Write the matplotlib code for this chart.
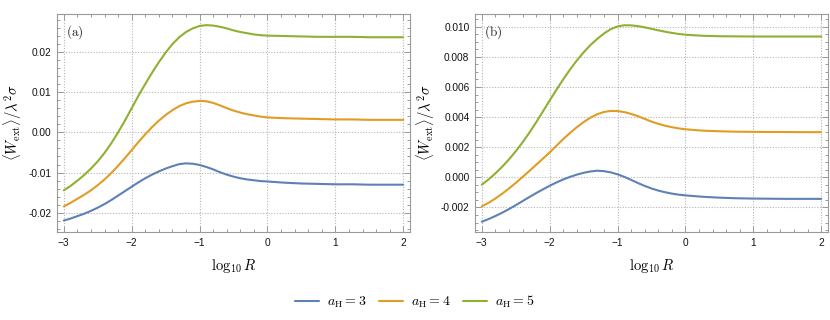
import numpy as np
import matplotlib
matplotlib.use("Agg")
import matplotlib.pyplot as plt
from matplotlib.ticker import MultipleLocator, FormatStrFormatter

# ---- data ----
x_dense = [-3.0, -2.9, -2.8, -2.7, -2.6, -2.5, -2.4, -2.3, -2.2, -2.1,
           -2.0, -1.9, -1.8, -1.7, -1.6, -1.5, -1.4, -1.3, -1.2, -1.1,
           -1.0, -0.9, -0.8, -0.7, -0.6, -0.5, -0.4, -0.3, -0.2, -0.1,
           0.0, 0.25, 0.5, 0.75, 1.0, 1.25, 1.5, 1.75, 2.0]

labels = [r"$a_{\rm H}=3$", r"$a_{\rm H}=4$", r"$a_{\rm H}=5$"]

# panel (a)
a_h3 = [-0.0219, -0.0214, -0.0208, -0.0202, -0.0195, -0.0187, -0.0178, -0.0168, -0.0157, -0.0146,
        -0.0135, -0.0124, -0.0114, -0.0105, -0.0097, -0.0090, -0.0084, -0.0079, -0.0077, -0.0078,
        -0.0081, -0.0086, -0.0092, -0.0099, -0.0105, -0.0110, -0.0114, -0.0117, -0.0119, -0.0121,
        -0.0122, -0.0125, -0.0127, -0.0128, -0.0129, -0.0129, -0.0130, -0.0130, -0.0130]
a_h4 = [-0.0184, -0.0175, -0.0165, -0.0155, -0.0144, -0.0131, -0.0117, -0.0101, -0.0083, -0.0064,
        -0.0044, -0.0024, -0.0005, 0.0013, 0.0029, 0.0043, 0.0055, 0.0065, 0.0072, 0.0076,
        0.0078, 0.0077, 0.0073, 0.0067, 0.0060, 0.0054, 0.0049, 0.0045, 0.0042, 0.0039,
        0.0037, 0.0035, 0.0034, 0.0033, 0.0032, 0.0032, 0.0031, 0.0031, 0.0031]
a_h5 = [-0.0144, -0.0133, -0.0120, -0.0106, -0.0090, -0.0072, -0.0051, -0.0027, 0.0000, 0.0029,
        0.0060, 0.0091, 0.0120, 0.0148, 0.0174, 0.0198, 0.0219, 0.0236, 0.0249, 0.0258,
        0.0264, 0.0266, 0.0265, 0.0262, 0.0258, 0.0253, 0.0249, 0.0246, 0.0243, 0.0241,
        0.0240, 0.0239, 0.0238, 0.0237, 0.0237, 0.0237, 0.0236, 0.0236, 0.0236]

# panel (b)
b_h3 = [-0.00295, -0.00277, -0.00257, -0.00235, -0.00211, -0.00185, -0.00158, -0.00131, -0.00105, -0.00080,
        -0.00056, -0.00034, -0.00014, 0.00003, 0.00018, 0.00030, 0.00039, 0.00044, 0.00041, 0.00033,
        0.00020, 0.00003, -0.00017, -0.00038, -0.00057, -0.00074, -0.00088, -0.00099, -0.00108, -0.00115,
        -0.00120, -0.00129, -0.00135, -0.00139, -0.00141, -0.00142, -0.00143, -0.00143, -0.00143]
b_h4 = [-0.00193, -0.00169, -0.00141, -0.00109, -0.00074, -0.00037, 0.00002, 0.00042, 0.00083, 0.00124,
        0.00165, 0.00210, 0.00254, 0.00295, 0.00333, 0.00367, 0.00396, 0.00419, 0.00434, 0.00441,
        0.00440, 0.00433, 0.00421, 0.00406, 0.00388, 0.00370, 0.00355, 0.00343, 0.00333, 0.00325,
        0.00319, 0.00310, 0.00306, 0.00303, 0.00302, 0.00301, 0.00301, 0.00300, 0.00300]
b_h5 = [-0.00049, -0.00014, 0.00026, 0.00070, 0.00119, 0.00173, 0.00232, 0.00296, 0.00365, 0.00437,
        0.00510, 0.00582, 0.00651, 0.00716, 0.00776, 0.00830, 0.00878, 0.00919, 0.00955, 0.00984,
        0.01002, 0.01010, 0.01009, 0.01004, 0.00996, 0.00986, 0.00976, 0.00967, 0.00959, 0.00952,
        0.00947, 0.00940, 0.00937, 0.00936, 0.00935, 0.00935, 0.00935, 0.00935, 0.00935]

colors = ["#5E81B5", "#E19C24", "#8FB032"]

plt.rcParams["mathtext.fontset"] = "cm"

fig = plt.figure(figsize=(8.3, 3.2), dpi=100)
ax_a = fig.add_axes([0.0687, 0.275, 0.4253, 0.681])
ax_b = fig.add_axes([0.5723, 0.275, 0.4253, 0.681])

panels = [
    (ax_a, [a_h3, a_h4, a_h5], (-0.02474, 0.02935), 0.01, 0.002, "%.2f", "(a)"),
    (ax_b, [b_h3, b_h4, b_h5], (-0.00363, 0.01084), 0.002, 0.0005, "%.3f", "(b)"),
]

frame_col = "#9a9a9a"
lines = []
for ax, series, ylim, major, minor, fmt, tag in panels:
    lines = []
    for ys, c, lab in zip(series, colors, labels):
        ln, = ax.plot(x_dense, ys, color=c, lw=1.5, label=lab,
                      solid_capstyle="round", solid_joinstyle="round")
        lines.append(ln)
    ax.set_xlim(-3.1, 2.1)
    ax.set_ylim(*ylim)
    ax.xaxis.set_major_locator(MultipleLocator(1))
    ax.xaxis.set_minor_locator(MultipleLocator(0.2))
    ax.yaxis.set_major_locator(MultipleLocator(major))
    ax.yaxis.set_minor_locator(MultipleLocator(minor))
    ax.yaxis.set_major_formatter(FormatStrFormatter(fmt))
    ax.grid(True, which="major", color="#b5b5b5", linestyle=(0, (1, 1.5)), lw=0.8)
    ax.set_axisbelow(True)
    for s in ax.spines.values():
        s.set_color(frame_col)
        s.set_linewidth(0.8)
    ax.tick_params(which="both", direction="in", top=True, right=True,
                   color=frame_col, width=0.7)
    ax.tick_params(which="major", length=4, labelsize=7.3, pad=4,
                   labelcolor="#111111")
    ax.tick_params(which="minor", length=2.2)
    for t in ax.get_xticklabels() + ax.get_yticklabels():
        t.set_fontfamily("Liberation Sans")
    ax.set_xlabel(r"$\log_{10} R$", fontsize=10.5, labelpad=7)
    ax.set_ylabel(r"$\langle W_{\rm ext}\rangle/\lambda^2\sigma$", fontsize=10.5, labelpad=3)
    ax.text(0.025, 0.9, r"$\mathrm{" + tag + r"}$", transform=ax.transAxes,
            fontsize=9.5, color="#222222")

fig.legend(lines, labels, loc="center", bbox_to_anchor=(0.5, 1 - 302 / 320),
           ncol=3, frameon=False, fontsize=10, handlelength=1.7,
           handletextpad=0.6, columnspacing=0.9)

fig.savefig("out.png", dpi=100)
